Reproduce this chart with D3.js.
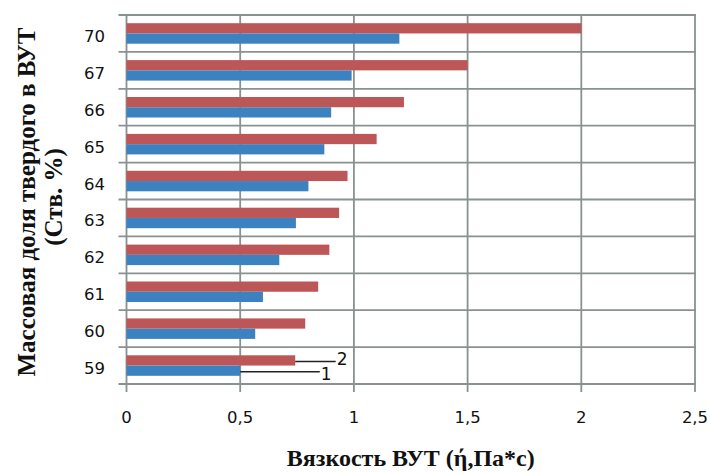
<!DOCTYPE html>
<html>
<head>
<meta charset="utf-8">
<script src="https://cdn.jsdelivr.net/npm/d3@7"></script>
<style>
  html, body { margin: 0; padding: 0; background: #fff; }
  svg { display: block; }
</style>
</head>
<body>
<svg id="chart" width="710" height="473"></svg>
<script>
// Solid content (mass fraction, %) — drawn top to bottom
const categories = ["70", "67", "66", "65", "64", "63", "62", "61", "60", "59"];
// Series 1 (blue) and series 2 (red): viscosity, Pa*s
const series1 = [1.20, 0.99, 0.90, 0.87, 0.80, 0.745, 0.672, 0.60, 0.566, 0.50];
const series2 = [2.00, 1.50, 1.22, 1.10, 0.972, 0.935, 0.892, 0.843, 0.786, 0.742];
const xTicks = [0, 0.5, 1, 1.5, 2, 2.5];
const xTickLabels = ["0", "0,5", "1", "1,5", "2", "2,5"];
const seriesNames = ["2", "1"];
// Callout labels on the "59" row: where each leader line ends (value units)
const calloutEnds = [0.92, 0.85];

const colors = { "1": "#3d82c0", "2": "#bd5656" };
const gridColor = "#899191";

const svg = d3.select("#chart");
const plot = { left: 126.5, right: 695, top: 15, bottom: 384 };

const x = d3.scaleLinear().domain([0, 2.5]).range([plot.left, plot.right]);
const y = d3.scaleBand().domain(categories).range([plot.top, plot.bottom]).padding(0);
const ySub = d3.scaleBand().domain(seriesNames).range([0, y.bandwidth()])
  .paddingInner(0).paddingOuter(0.8);

const rows = categories.map((c, i) => ({ cat: c, "1": series1[i], "2": series2[i] }));

// Grid: vertical lines at x ticks, horizontal lines at category boundaries
const g = svg.append("g");
const boundaries = categories.map(c => y(c)).concat([plot.bottom]);

g.selectAll("line.hgrid").data(boundaries).join("line")
  .attr("x1", plot.left - 8).attr("x2", plot.right + 1)
  .attr("y1", d => d).attr("y2", d => d)
  .attr("stroke", gridColor).attr("stroke-width", 1.8);

g.selectAll("line.vgrid").data(xTicks).join("line")
  .attr("x1", d => x(d)).attr("x2", d => x(d))
  .attr("y1", plot.top - 1).attr("y2", plot.bottom + 8)
  .attr("stroke", gridColor).attr("stroke-width", 1.8);

// Bars
const groups = svg.append("g").selectAll("g").data(rows).join("g")
  .attr("transform", d => `translate(0,${y(d.cat)})`);

groups.selectAll("rect").data(d => seriesNames.map(s => ({ s, v: d[s] }))).join("rect")
  .attr("x", x(0))
  .attr("y", d => ySub(d.s))
  .attr("width", d => x(d.v) - x(0))
  .attr("height", ySub.bandwidth())
  .attr("fill", d => colors[d.s]);

// Y tick labels
svg.append("g").selectAll("text").data(categories).join("text")
  .attr("x", 105)
  .attr("y", d => y(d) + y.bandwidth() / 2 + 8.5)
  .attr("text-anchor", "end")
  .attr("font-family", "DejaVu Sans, sans-serif")
  .attr("font-size", 16.5)
  .attr("fill", "#111")
  .text(d => d);

// X tick labels
svg.append("g").selectAll("text").data(xTicks).join("text")
  .attr("x", d => x(d))
  .attr("y", 423)
  .attr("text-anchor", "middle")
  .attr("font-family", "DejaVu Sans, sans-serif")
  .attr("font-size", 16.5)
  .attr("fill", "#111")
  .text((d, i) => xTickLabels[i]);

// Series callouts on the last row
const last = rows[rows.length - 1];
const callouts = seriesNames.map((s, i) => ({ s, v: last[s], end: calloutEnds[i] }));
const cg = svg.append("g").attr("transform", `translate(0,${y(last.cat)})`);
cg.selectAll("line").data(callouts).join("line")
  .attr("x1", d => x(d.v)).attr("x2", d => x(d.end))
  .attr("y1", d => ySub(d.s) + ySub.bandwidth() / 2 + 1)
  .attr("y2", d => ySub(d.s) + ySub.bandwidth() / 2 + 1)
  .attr("stroke", "#222").attr("stroke-width", 1.4);
cg.selectAll("text").data(callouts).join("text")
  .attr("x", d => x(d.end) + 1)
  .attr("y", d => ySub(d.s) + ySub.bandwidth() / 2 + (d.s === "2" ? 5 : 9))
  .attr("font-family", "DejaVu Sans, sans-serif")
  .attr("font-size", 17)
  .attr("fill", "#111")
  .text(d => d.s);

// Axis titles
svg.append("text")
  .attr("x", (plot.left + plot.right) / 2)
  .attr("y", 466)
  .attr("text-anchor", "middle")
  .attr("font-family", "Liberation Serif, serif")
  .attr("font-weight", "bold")
  .attr("font-size", 24)
  .attr("fill", "#111")
  .text("Вязкость ВУТ (ή,Па*с)");

const yTitle = svg.append("text")
  .attr("transform", "translate(35,202) rotate(-90)")
  .attr("text-anchor", "middle")
  .attr("font-family", "Liberation Serif, serif")
  .attr("font-weight", "bold")
  .attr("font-size", 25)
  .attr("fill", "#111");
yTitle.append("tspan").attr("x", 0).attr("y", 0).text("Массовая доля твердого в ВУТ");
yTitle.append("tspan").attr("x", 5).attr("y", 27).text("(Ств. %)");
</script>
</body>
</html>
